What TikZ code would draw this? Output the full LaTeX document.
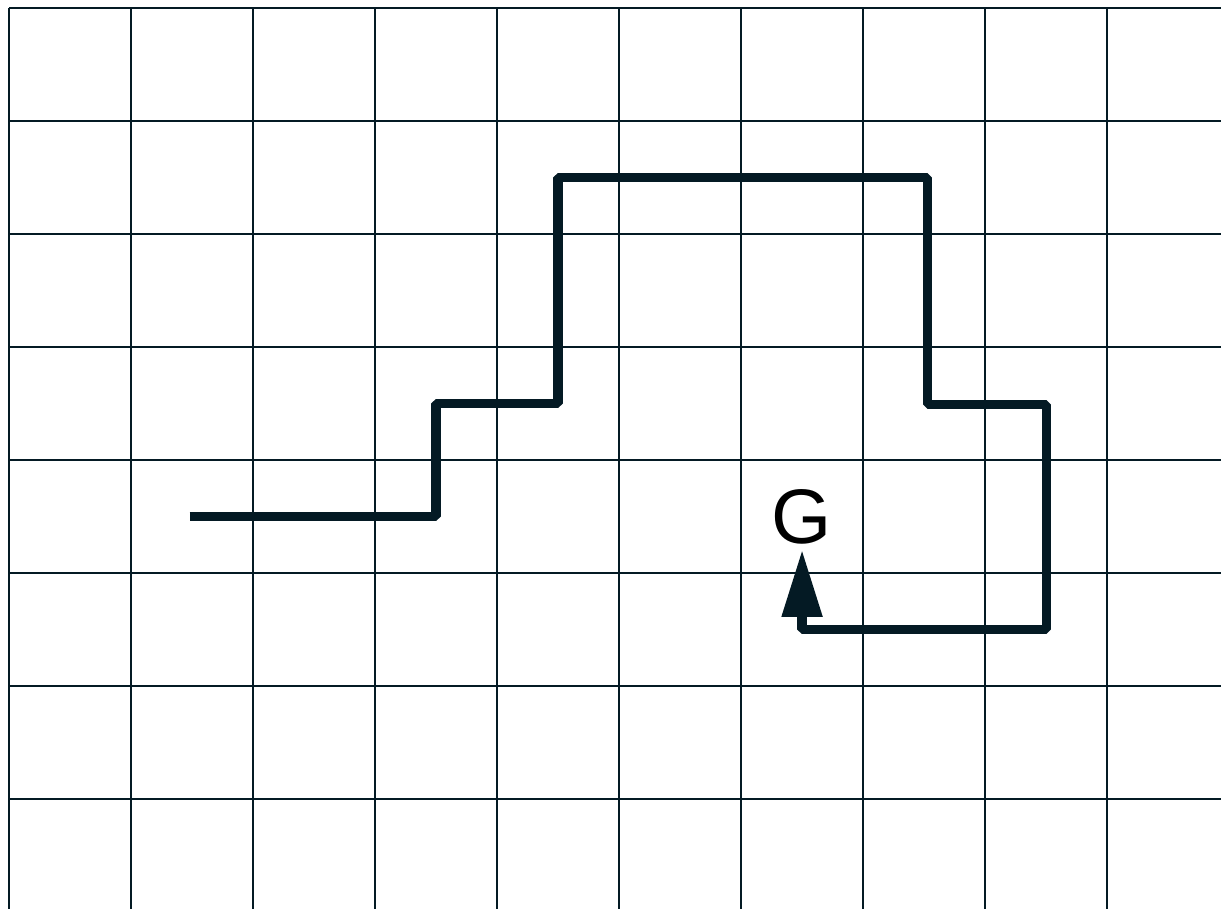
\documentclass[tikz,border=0pt]{standalone}
\usepackage{fontspec}
\setmainfont{Liberation Sans}
\usepackage{tikz}
\usetikzlibrary{positioning,arrows.meta}
\definecolor{gridink}{RGB}{4,26,36}
\tikzset{
  gridline/.style={line width=0.7pt, draw=gridink},
  route/.style={line width=2.6pt, draw=gridink, line join=bevel},
  goal/.style={font=\fontsize{22}{26}\selectfont, text=black, inner sep=1.5pt},
  arr/.style={-{Triangle[length=19pt, width=11pt]}},
}

\begin{document}
\begin{tikzpicture}[x=1.22cm, y=-1.13cm]
    \clip (-0.074,-0.071) rectangle (9.934,7.973);
    % grid
    \foreach \x in {0,...,9}{\draw[gridline] (\x,0) -- (\x,8.2);}
    \foreach \y in {0,...,7}{\draw[gridline] (0,\y) -- (10.2,\y);}
    % route to the goal
    \coordinate (start) at (1.48,4.5);
    \node[goal, anchor=south] (G) at (6.5,4.796) {G};
    \draw[route, arr] (start) -| (3.5,3.5) -| (4.5,1.5) -| (7.53,3.51) -| (8.5,5.5) -| (G);
  \end{tikzpicture}
\end{document}
